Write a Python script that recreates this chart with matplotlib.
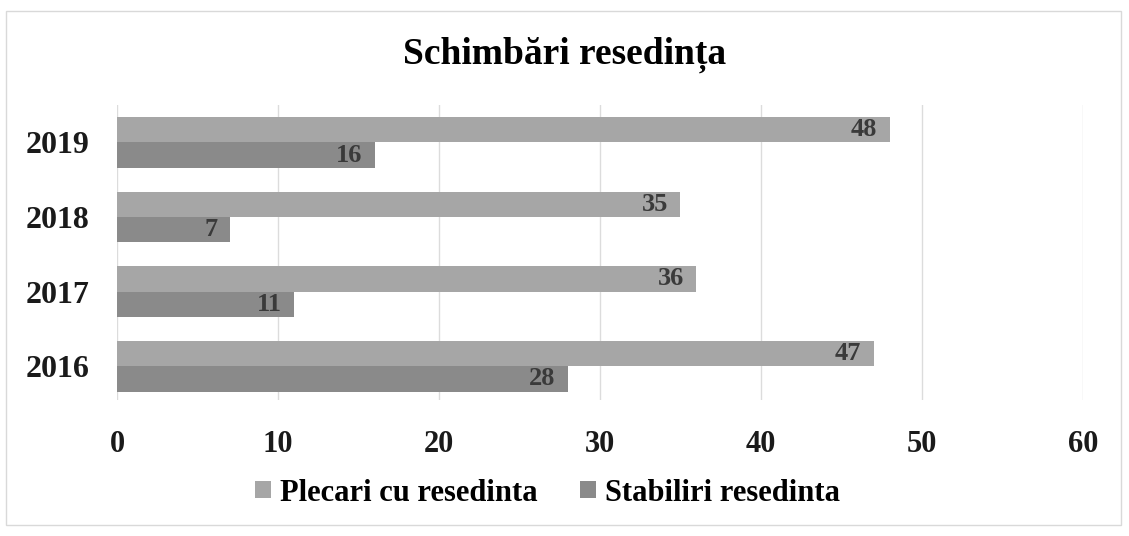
import matplotlib.pyplot as plt
import numpy as np
from matplotlib.patches import Rectangle

# chart data
years = ["2016", "2017", "2018", "2019"]
plecari = [47, 36, 35, 48]
stabiliri = [28, 11, 7, 16]
x_ticks = [0, 10, 20, 30, 40, 50, 60]

plt.rcParams['font.family'] = ['Liberation Serif', 'DejaVu Serif']
plt.rcParams['font.weight'] = 'bold'

fig = plt.figure(figsize=(11.29, 5.36), dpi=100)
ax = fig.add_axes([0.1036, 0.254, 0.8555, 0.55])

# outer chart border
fig.patches.append(Rectangle((0.005, 0.02), 0.988, 0.96, transform=fig.transFigure,
                             fill=False, edgecolor='#d9d9d9', linewidth=1))

pos = np.arange(len(years))
h = 0.34
bars_p = ax.barh(pos + h / 2, plecari, height=h, color='#a6a6a6',
                 label='Plecari cu resedinta', zorder=3)
bars_s = ax.barh(pos - h / 2, stabiliri, height=h, color='#8a8a8a',
                 label='Stabiliri resedinta', zorder=3)

# value labels inside the bar ends
for bars, vals in ((bars_p, plecari), (bars_s, stabiliri)):
    for b, v in zip(bars, vals):
        ax.annotate(str(v), xy=(v, b.get_y() + b.get_height() / 2),
                    xytext=(-9, 0), textcoords='offset points',
                    ha='right', va='center', fontsize=19, color='#3a3a3a',
                    fontweight='bold', zorder=4)

ax.set_xlim(0, 60)
ax.set_ylim(-0.45, 3.5)
ax.set_xticks(x_ticks)
ax.set_xticklabels([str(t) for t in x_ticks], fontsize=22, fontweight='bold')
ax.set_yticks(pos)
ax.set_yticklabels(years, fontsize=23, fontweight='bold')
ax.tick_params(length=0, colors='#1a1a1a')
ax.tick_params(axis='x', pad=22)
ax.tick_params(axis='y', pad=20)
ax.grid(axis='x', color='#dcdcdc', linewidth=1, zorder=0)
for s in ax.spines.values():
    s.set_visible(False)

fig.text(0.5, 0.897, 'Schimbări resedința', fontsize=27, fontweight='bold',
         ha='center', va='center')

fig.legend(loc='center', bbox_to_anchor=(0.485, 0.08), ncol=2, frameon=False,
           handlelength=0.5, handleheight=0.5, handletextpad=0.3,
           columnspacing=1.4, prop={'weight': 'bold', 'size': 22})

fig.savefig('out.png', dpi=100)
